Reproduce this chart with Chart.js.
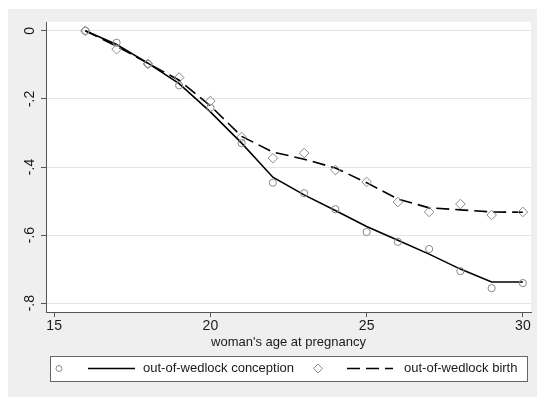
<!DOCTYPE html>
<html>
<head>
<meta charset="utf-8">
<script src="https://cdn.jsdelivr.net/npm/chart.js@4/dist/chart.umd.min.js"></script>
<style>
  html, body { margin: 0; padding: 0; background: #fff; }
</style>
</head>
<body>
<canvas id="chart" width="538" height="397"></canvas>
<script>
// Data
const ages = [16, 17, 18, 19, 20, 21, 22, 23, 24, 25, 26, 27, 28, 29, 30];
const conceptionObs = [0, -0.035, -0.097, -0.16, -0.226, -0.33, -0.446, -0.477, -0.524, -0.591, -0.62, -0.641, -0.706, -0.756, -0.741];
const conceptionFit = [0, -0.04, -0.095, -0.155, -0.238, -0.33, -0.43, -0.482, -0.528, -0.575, -0.615, -0.656, -0.70, -0.738, -0.738];
const birthObs = [0, -0.054, -0.097, -0.137, -0.206, -0.312, -0.374, -0.359, -0.409, -0.444, -0.503, -0.532, -0.509, -0.541, -0.532];
const birthFit = [0, -0.045, -0.095, -0.145, -0.22, -0.31, -0.356, -0.377, -0.403, -0.446, -0.494, -0.52, -0.526, -0.532, -0.533];
const xTicks = [15, 20, 25, 30];
const yTicks = [0, -0.2, -0.4, -0.6, -0.8];
const yTickLabels = ['0', '-.2', '-.4', '-.6', '-.8'];
const legendLabels = ['out-of-wedlock conception', 'out-of-wedlock birth'];
const xTitle = "woman's age at pregnancy";

const FONT = '"Liberation Sans", Arial, Helvetica, sans-serif';
const markerColor = '#8a8a8a';
const dashPattern = [13, 6];

const pts = vals => ages.map((a, i) => ({ x: a, y: vals[i] }));

// Background, y labels, x title and legend
const stataPlugin = {
    id: 'stata',
    beforeDraw(chart) {
        const { ctx, chartArea: a } = chart;
        ctx.save();
        ctx.fillStyle = '#fff';
        ctx.fillRect(0, 0, chart.width, chart.height);
        ctx.fillStyle = '#efefef';
        ctx.fillRect(8, 9, 529, 388);
        ctx.fillStyle = '#fff';
        ctx.fillRect(a.left, a.top, a.right - a.left, a.bottom - a.top);
        ctx.restore();
    },
    afterDraw(chart) {
        const { ctx, chartArea: a } = chart;
        const yScale = chart.scales.y;
        ctx.save();
        ctx.fillStyle = '#1a1a1a';

        // y tick labels, rotated like Stata
        ctx.font = '14px ' + FONT;
        ctx.textAlign = 'center';
        ctx.textBaseline = 'middle';
        yTicks.forEach((v, i) => {
            ctx.save();
            ctx.translate(30, yScale.getPixelForValue(v));
            ctx.rotate(-Math.PI / 2);
            ctx.fillText(yTickLabels[i], 0, 0);
            ctx.restore();
        });

        // x axis title
        ctx.font = '13px ' + FONT;
        ctx.fillText(xTitle, (a.left + a.right) / 2, 342);

        // legend box
        const ly = 368.5;
        ctx.fillStyle = '#fff';
        ctx.fillRect(50, 356, 477, 25);
        ctx.strokeStyle = '#666';
        ctx.lineWidth = 1;
        ctx.strokeRect(50.5, 356.5, 477, 25);

        // circle marker
        ctx.strokeStyle = markerColor;
        ctx.beginPath();
        ctx.arc(59, ly, 3, 0, Math.PI * 2);
        ctx.stroke();
        // solid line
        ctx.strokeStyle = '#000';
        ctx.lineWidth = 1.6;
        ctx.beginPath();
        ctx.moveTo(88, ly); ctx.lineTo(135, ly);
        ctx.stroke();
        // diamond marker
        ctx.strokeStyle = markerColor;
        ctx.lineWidth = 1;
        ctx.beginPath();
        ctx.moveTo(318, ly - 4.5); ctx.lineTo(322.5, ly); ctx.lineTo(318, ly + 4.5); ctx.lineTo(313.5, ly);
        ctx.closePath();
        ctx.stroke();
        // dashed line
        ctx.strokeStyle = '#000';
        ctx.lineWidth = 1.6;
        ctx.setLineDash(dashPattern);
        ctx.beginPath();
        ctx.moveTo(347, ly); ctx.lineTo(393, ly);
        ctx.stroke();
        ctx.setLineDash([]);

        ctx.fillStyle = '#1a1a1a';
        ctx.font = '13px ' + FONT;
        ctx.textAlign = 'left';
        ctx.fillText(legendLabels[0], 143, ly);
        ctx.fillText(legendLabels[1], 404, ly);
        ctx.restore();
    }
};

new Chart(document.getElementById('chart'), {
    type: 'line',
    data: {
        datasets: [
            {
                data: pts(conceptionObs),
                showLine: false,
                pointStyle: 'circle',
                pointRadius: 3.6,
                pointBorderColor: markerColor,
                pointBackgroundColor: 'rgba(0,0,0,0)',
                pointBorderWidth: 1
            },
            {
                data: pts(birthObs),
                showLine: false,
                pointStyle: 'rectRot',
                pointRadius: 4.8,
                pointBorderColor: markerColor,
                pointBackgroundColor: 'rgba(0,0,0,0)',
                pointBorderWidth: 1
            },
            {
                data: pts(conceptionFit),
                borderColor: '#000',
                borderWidth: 1.6,
                tension: 0,
                pointRadius: 0
            },
            {
                data: pts(birthFit),
                borderColor: '#000',
                borderWidth: 1.6,
                borderDash: dashPattern,
                tension: 0,
                pointRadius: 0
            }
        ]
    },
    options: {
        responsive: false,
        animation: false,
        devicePixelRatio: 1,
        layout: { padding: { top: 22, right: 7, left: 0, bottom: 0 } },
        plugins: { legend: { display: false }, tooltip: { enabled: false } },
        scales: {
            x: {
                type: 'linear',
                min: 14.74,
                max: 30.26,
                afterBuildTicks: s => { s.ticks = xTicks.map(v => ({ value: v })); },
                afterFit: s => { s.height = 85; },
                ticks: {
                    font: { family: FONT, size: 14 },
                    color: '#1a1a1a',
                    padding: 1,
                    maxRotation: 0,
                    callback: v => String(v)
                },
                grid: { drawOnChartArea: false, tickLength: 5, tickColor: '#555' },
                border: { display: true, color: '#555', width: 1 }
            },
            y: {
                min: -0.826,
                max: 0.026,
                afterBuildTicks: s => { s.ticks = yTicks.map(v => ({ value: v })); },
                afterFit: s => { s.width = 46; },
                ticks: { display: false },
                grid: { color: '#e4e4e4', lineWidth: 1, tickLength: 5, tickColor: '#555' },
                border: { display: true, color: '#555', width: 1 }
            }
        }
    },
    plugins: [stataPlugin]
});
</script>
</body>
</html>
